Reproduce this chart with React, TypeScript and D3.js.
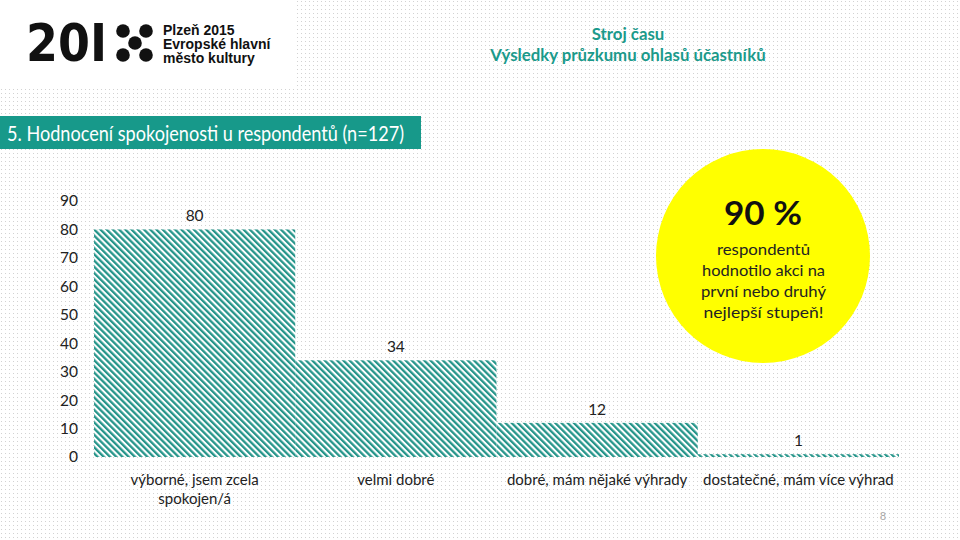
import React from "react";
import * as d3 from "d3";

const categories = [
  ["výborné, jsem zcela", "spokojen/á"],
  ["velmi dobré"],
  ["dobré, mám nějaké výhrady"],
  ["dostatečné, mám více výhrad"],
];
const values = [80, 34, 12, 1];
const yTicks = [0, 10, 20, 30, 40, 50, 60, 70, 80, 90];
const titleText = "5. Hodnocení spokojenosti u respondentů (n=127)";
const headerLines = ["Stroj času", "Výsledky průzkumu ohlasů účastníků"];
const logoLines = ["Plzeň 2015", "Evropské hlavní", "město kultury"];
const calloutBig = "90 %";
const calloutLines = ["respondentů", "hodnotilo akci na", "první nebo druhý", "nejlepší stupeň!"];
const calloutWidths = [93, 123, 125, 120];

const W = 960;
const H = 540;
const TEAL = "#1b9a8b";
const FONT = "Lato, 'Open Sans', sans-serif";

export default function App() {
  const keys = categories.map((c) => c.join(" "));
  const x = d3.scaleBand<string>().domain(keys).range([94, 899]).padding(0);
  const y = d3.scaleLinear().domain([0, 90]).range([457, 201]);

  return (
    <svg
      width={W}
      height={H}
      style={{ position: "fixed", left: 0, top: 0, background: "#fff" }}
      fontFamily={FONT}
    >
      <defs>
        <pattern id="dots" patternUnits="userSpaceOnUse" width={4} height={4}>
          <rect width={4} height={4} fill="#ffffff" />
          <rect x={1} y={1} width={1} height={1} fill="#d2d2d2" />
        </pattern>
        <pattern
          id="hatch"
          patternUnits="userSpaceOnUse"
          width={4.4}
          height={4.4}
          patternTransform="rotate(-45)"
        >
          <rect width={4.4} height={4.4} fill="#ffffff" />
          <rect width={2.3} height={4.4} fill="#25958a" />
        </pattern>
      </defs>

      {/* background */}
      <rect width={W} height={H} fill="url(#dots)" />
      <rect x={0} y={0} width={296} height={88} fill="#ffffff" />

      {/* logo */}
      <text x={26} y={61} fontFamily="'DejaVu Sans', sans-serif" fontWeight="bold" fontSize={51} fill="#111" textLength={81} lengthAdjust="spacingAndGlyphs">
        20I
      </text>
      {[
        [123, 31],
        [146, 31],
        [135, 43],
        [123, 55],
        [146, 55],
      ].map(([cx, cy], i) => (
        <circle key={i} cx={cx} cy={cy} r={6.8} fill="#111" />
      ))}
      {logoLines.map((t, i) => (
        <text key={t} x={163} y={35 + i * 14.2} fontFamily="'Liberation Sans', Arial, sans-serif" fontWeight="bold" fontSize={14} fill="#111">
          {t}
        </text>
      ))}

      {/* header */}
      {headerLines.map((t, i) => (
        <text
          key={t}
          x={628}
          y={40 + i * 21}
          textAnchor="middle"
          fontWeight="bold"
          fontSize={16.8}
          fill={TEAL}
        >
          {t}
        </text>
      ))}

      {/* title band */}
      <rect x={0} y={116} width={421} height={33} fill="#17998a" />
      <text x={7} y={140.5} fontSize={21} fill="#ffffff" textLength={397} lengthAdjust="spacingAndGlyphs">
        {titleText}
      </text>

      {/* y ticks */}
      {yTicks.map((t) => (
        <text key={t} x={78} y={y(t)} dy="0.35em" textAnchor="end" fontSize={15.5} fill="#222">
          {t}
        </text>
      ))}

      {/* bars */}
      {values.map((v, i) => (
        <g key={keys[i]}>
          <rect
            x={x(keys[i])}
            y={y(v)}
            width={x.bandwidth()}
            height={y(0) - y(v)}
            fill="url(#hatch)"
          />
          <text
            x={(x(keys[i]) as number) + x.bandwidth() / 2}
            y={y(v) - 8}
            textAnchor="middle"
            fontSize={15.5}
            fill="#222"
          >
            {v}
          </text>
        </g>
      ))}

      {/* category labels */}
      {categories.map((lines, i) =>
        lines.map((ln, j) => (
          <text
            key={keys[i] + j}
            x={(x(keys[i]) as number) + x.bandwidth() / 2}
            y={485 + j * 19}
            textAnchor="middle"
            fontSize={15}
            fill="#222"
          >
            {ln}
          </text>
        ))
      )}

      {/* callout circle */}
      <circle cx={763} cy={256} r={107} fill="#ffff00" />
      <text x={724} y={225} fontWeight="bold" fontSize={32} fill="#111" textLength={78} lengthAdjust="spacingAndGlyphs">
        {calloutBig}
      </text>
      {calloutLines.map((t, i) => (
        <text
          key={t}
          x={763.5 - calloutWidths[i] / 2}
          y={255 + i * 21}
          fontSize={16}
          fill="#222"
          textLength={calloutWidths[i]}
          lengthAdjust="spacingAndGlyphs"
        >
          {t}
        </text>
      ))}

      {/* page number */}
      <text x={883} y={520} textAnchor="middle" fontSize={11} fill="#aaaaaa">
        8
      </text>
    </svg>
  );
}
